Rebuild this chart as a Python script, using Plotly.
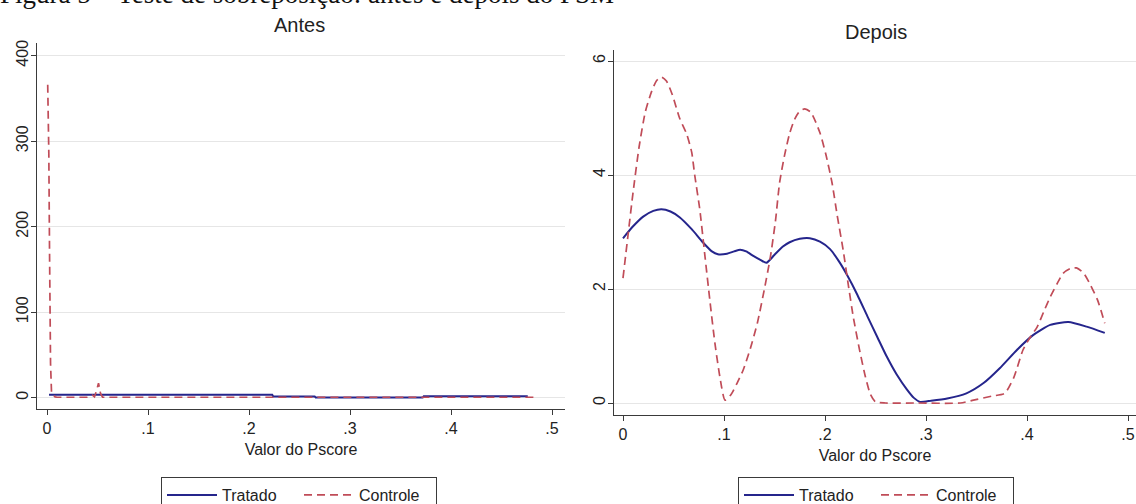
import plotly.graph_objects as go

# ---------------- data ----------------
# Antes (before matching)
antes_trat_x = [0.002, 0.05, 0.1, 0.15, 0.2, 0.223, 0.224, 0.265, 0.266, 0.372, 0.373, 0.42, 0.476]
antes_trat_y = [3.5, 3.5, 3.5, 3.5, 3.5, 3.5, 1.5, 1.5, 0.2, 0.2, 1.6, 1.6, 1.6]
antes_ctrl_x = [0.0007, 0.0012, 0.0018, 0.0025, 0.0030, 0.0035, 0.0045, 0.006, 0.008, 0.010,
                0.040, 0.045, 0.047, 0.049, 0.051, 0.053, 0.055, 0.10, 0.2, 0.3, 0.4, 0.482]
antes_ctrl_y = [366, 330, 286, 172, 90, 40, 5, 3, 1, 0.5,
                0.5, 3, 1, 8, 17, 5, 0.5, 0.5, 0.5, 0.5, 0.5, 0.5]

# Depois (after matching)
depois_trat_x = [0.000, 0.010, 0.020, 0.030, 0.038, 0.047, 0.056, 0.068, 0.079, 0.088, 0.094,
                 0.103, 0.110, 0.116, 0.122, 0.129, 0.136, 0.142, 0.150, 0.158, 0.165, 0.175,
                 0.185, 0.195, 0.205, 0.214, 0.222, 0.232, 0.242, 0.252, 0.261, 0.271, 0.281,
                 0.288, 0.294, 0.305, 0.321, 0.340, 0.357, 0.373, 0.390, 0.406, 0.423, 0.441,
                 0.459, 0.477]
depois_trat_y = [2.89, 3.10, 3.27, 3.37, 3.40, 3.36, 3.26, 3.05, 2.82, 2.66, 2.61,
                 2.62, 2.66, 2.69, 2.66, 2.58, 2.51, 2.46, 2.60, 2.74, 2.82, 2.88,
                 2.89, 2.83, 2.70, 2.48, 2.24, 1.90, 1.52, 1.15, 0.82, 0.50, 0.24,
                 0.09, 0.02, 0.04, 0.08, 0.17, 0.35, 0.61, 0.93, 1.19, 1.37, 1.42,
                 1.34, 1.23]
depois_ctrl_x = [0.000, 0.005, 0.010, 0.016, 0.022, 0.028, 0.033, 0.038, 0.043, 0.049, 0.056,
                 0.063, 0.068, 0.071, 0.076, 0.081, 0.086, 0.091, 0.096, 0.101, 0.107, 0.113,
                 0.119, 0.126, 0.133, 0.140, 0.146, 0.151, 0.155, 0.160, 0.165, 0.170, 0.175,
                 0.180, 0.186, 0.195, 0.201, 0.207, 0.212, 0.218, 0.223, 0.228, 0.234, 0.240,
                 0.245, 0.250, 0.260, 0.290, 0.334, 0.347, 0.365, 0.378, 0.387, 0.396, 0.403,
                 0.410, 0.417, 0.423, 0.430, 0.436, 0.443, 0.449, 0.456, 0.462, 0.470, 0.477]
depois_ctrl_y = [2.19, 2.95, 3.70, 4.50, 5.10, 5.45, 5.65, 5.72, 5.65, 5.40, 5.00,
                 4.72, 4.40, 4.00, 3.40, 2.60, 1.80, 1.05, 0.45, 0.05, 0.15, 0.35,
                 0.58, 0.95, 1.40, 2.00, 2.57, 3.20, 3.86, 4.35, 4.73, 4.98, 5.12,
                 5.16, 5.10, 4.74, 4.35, 3.86, 3.30, 2.68, 2.08, 1.51, 0.95, 0.46,
                 0.15, 0.02, 0.0, 0.0, 0.0, 0.05, 0.12, 0.17, 0.45, 0.93, 1.15,
                 1.33, 1.62, 1.86, 2.10, 2.28, 2.36, 2.37, 2.28, 2.10, 1.80, 1.40]

x_tickvals = [0, 0.1, 0.2, 0.3, 0.4, 0.5]
x_ticktext = ["0", ".1", ".2", ".3", ".4", ".5"]
antes_yticks = [0, 100, 200, 300, 400]
depois_yticks = [0, 2, 4, 6]

series_names = ["Tratado", "Controle"]
titles = ["Antes", "Depois"]
x_title = "Valor do Pscore"
caption = "Figura 5 – Teste de sobreposição: antes e depois do PSM"

# ---------------- style ----------------
W, H = 1136, 504
BLUE = "#25258c"
RED = "#c04c58"
AX = "#3a3a3a"
GRID = "#e6e6e6"
FONT = "Liberation Sans"

fig = go.Figure()

fig.add_trace(go.Scatter(x=antes_trat_x, y=antes_trat_y, mode="lines", name=series_names[0],
                         line=dict(color=BLUE, width=2), xaxis="x", yaxis="y", legend="legend"))
fig.add_trace(go.Scatter(x=antes_ctrl_x, y=antes_ctrl_y, mode="lines", name=series_names[1],
                         line=dict(color=RED, width=1.7, dash="8px,5px"), xaxis="x", yaxis="y",
                         legend="legend"))
fig.add_trace(go.Scatter(x=depois_trat_x, y=depois_trat_y, mode="lines", name=series_names[0],
                         line=dict(color=BLUE, width=2, shape="spline", smoothing=0.6),
                         xaxis="x2", yaxis="y2", legend="legend2"))
fig.add_trace(go.Scatter(x=depois_ctrl_x, y=depois_ctrl_y, mode="lines", name=series_names[1],
                         line=dict(color=RED, width=1.7, dash="8px,5px", shape="spline", smoothing=0.6),
                         xaxis="x2", yaxis="y2", legend="legend2"))


def px_x(p):
    return p / W


def px_y(p):
    return 1 - p / H


common_x = dict(showline=True, linecolor=AX, linewidth=1.3, ticks="outside", ticklen=5,
                tickcolor=AX, tickwidth=1.2, showgrid=False, zeroline=False,
                tickvals=x_tickvals, ticktext=x_ticktext, automargin=False,
                tickfont=dict(family=FONT, size=16, color="#222"),
                title=dict(text=x_title, font=dict(family=FONT, size=16, color="#222"), standoff=7))
common_y = dict(showline=True, linecolor=AX, linewidth=1.3, ticks="outside", ticklen=5,
                tickcolor=AX, tickwidth=1.2, showgrid=True, gridcolor=GRID, gridwidth=1,
                zeroline=False, tickangle=-90, automargin=False, ticklabelstandoff=-4,
                tickfont=dict(family=FONT, size=16, color="#222"))

# left panel: y axis at px 37, x=0 at px 47, 0.1 per 101 px
fig.update_layout(
    xaxis=dict(domain=[px_x(37), px_x(565)], range=[-10 / 1010, (565 - 47) / 1010],
               anchor="y", **common_x),
    yaxis=dict(domain=[px_y(409), px_y(43)], range=[(397.7 - 409) / 0.855, (397.7 - 43) / 0.855],
               anchor="x", tickvals=antes_yticks, **common_y),
    xaxis2=dict(domain=[px_x(614), 1.0], range=[(614 - 623) / 1010, (1136 - 623) / 1010],
                anchor="y2", **common_x),
    yaxis2=dict(domain=[px_y(415), px_y(50)], range=[(403 - 415) / 57, (403 - 50) / 57],
                anchor="x2", tickvals=depois_yticks, **common_y),
)

legend_common = dict(orientation="h", xanchor="center", yanchor="top",
                     bordercolor=AX, borderwidth=1, bgcolor="white",
                     font=dict(family=FONT, size=16, color="#222"),
                     itemwidth=50, entrywidth=72, entrywidthmode="pixels",
                     itemclick=False)
fig.update_layout(
    legend=dict(x=px_x(299), y=px_y(477), **legend_common),
    legend2=dict(x=px_x(876), y=px_y(477), **legend_common),
)

annotations = [
    dict(text=titles[0], x=px_x(299), y=px_y(25), xref="paper", yref="paper",
         xanchor="center", yanchor="middle", showarrow=False,
         font=dict(family=FONT, size=20, color="#222")),
    dict(text=titles[1], x=px_x(876), y=px_y(32), xref="paper", yref="paper",
         xanchor="center", yanchor="middle", showarrow=False,
         font=dict(family=FONT, size=20, color="#222")),
    dict(text=caption, x=px_x(-2), y=px_y(11), xref="paper", yref="paper",
         xanchor="left", yanchor="bottom", showarrow=False,
         font=dict(family="Liberation Serif", size=27, color="#111")),
]
fig.update_layout(annotations=annotations)

fig.update_layout(width=W, height=H,
                  margin=dict(l=0, r=0, t=0, b=0, pad=0, autoexpand=False),
                  paper_bgcolor="white", plot_bgcolor="white", showlegend=True)

fig.write_html("out.html", config={"displayModeBar": False},
               post_script="document.body.style.margin='0';document.body.style.overflow='hidden';")
